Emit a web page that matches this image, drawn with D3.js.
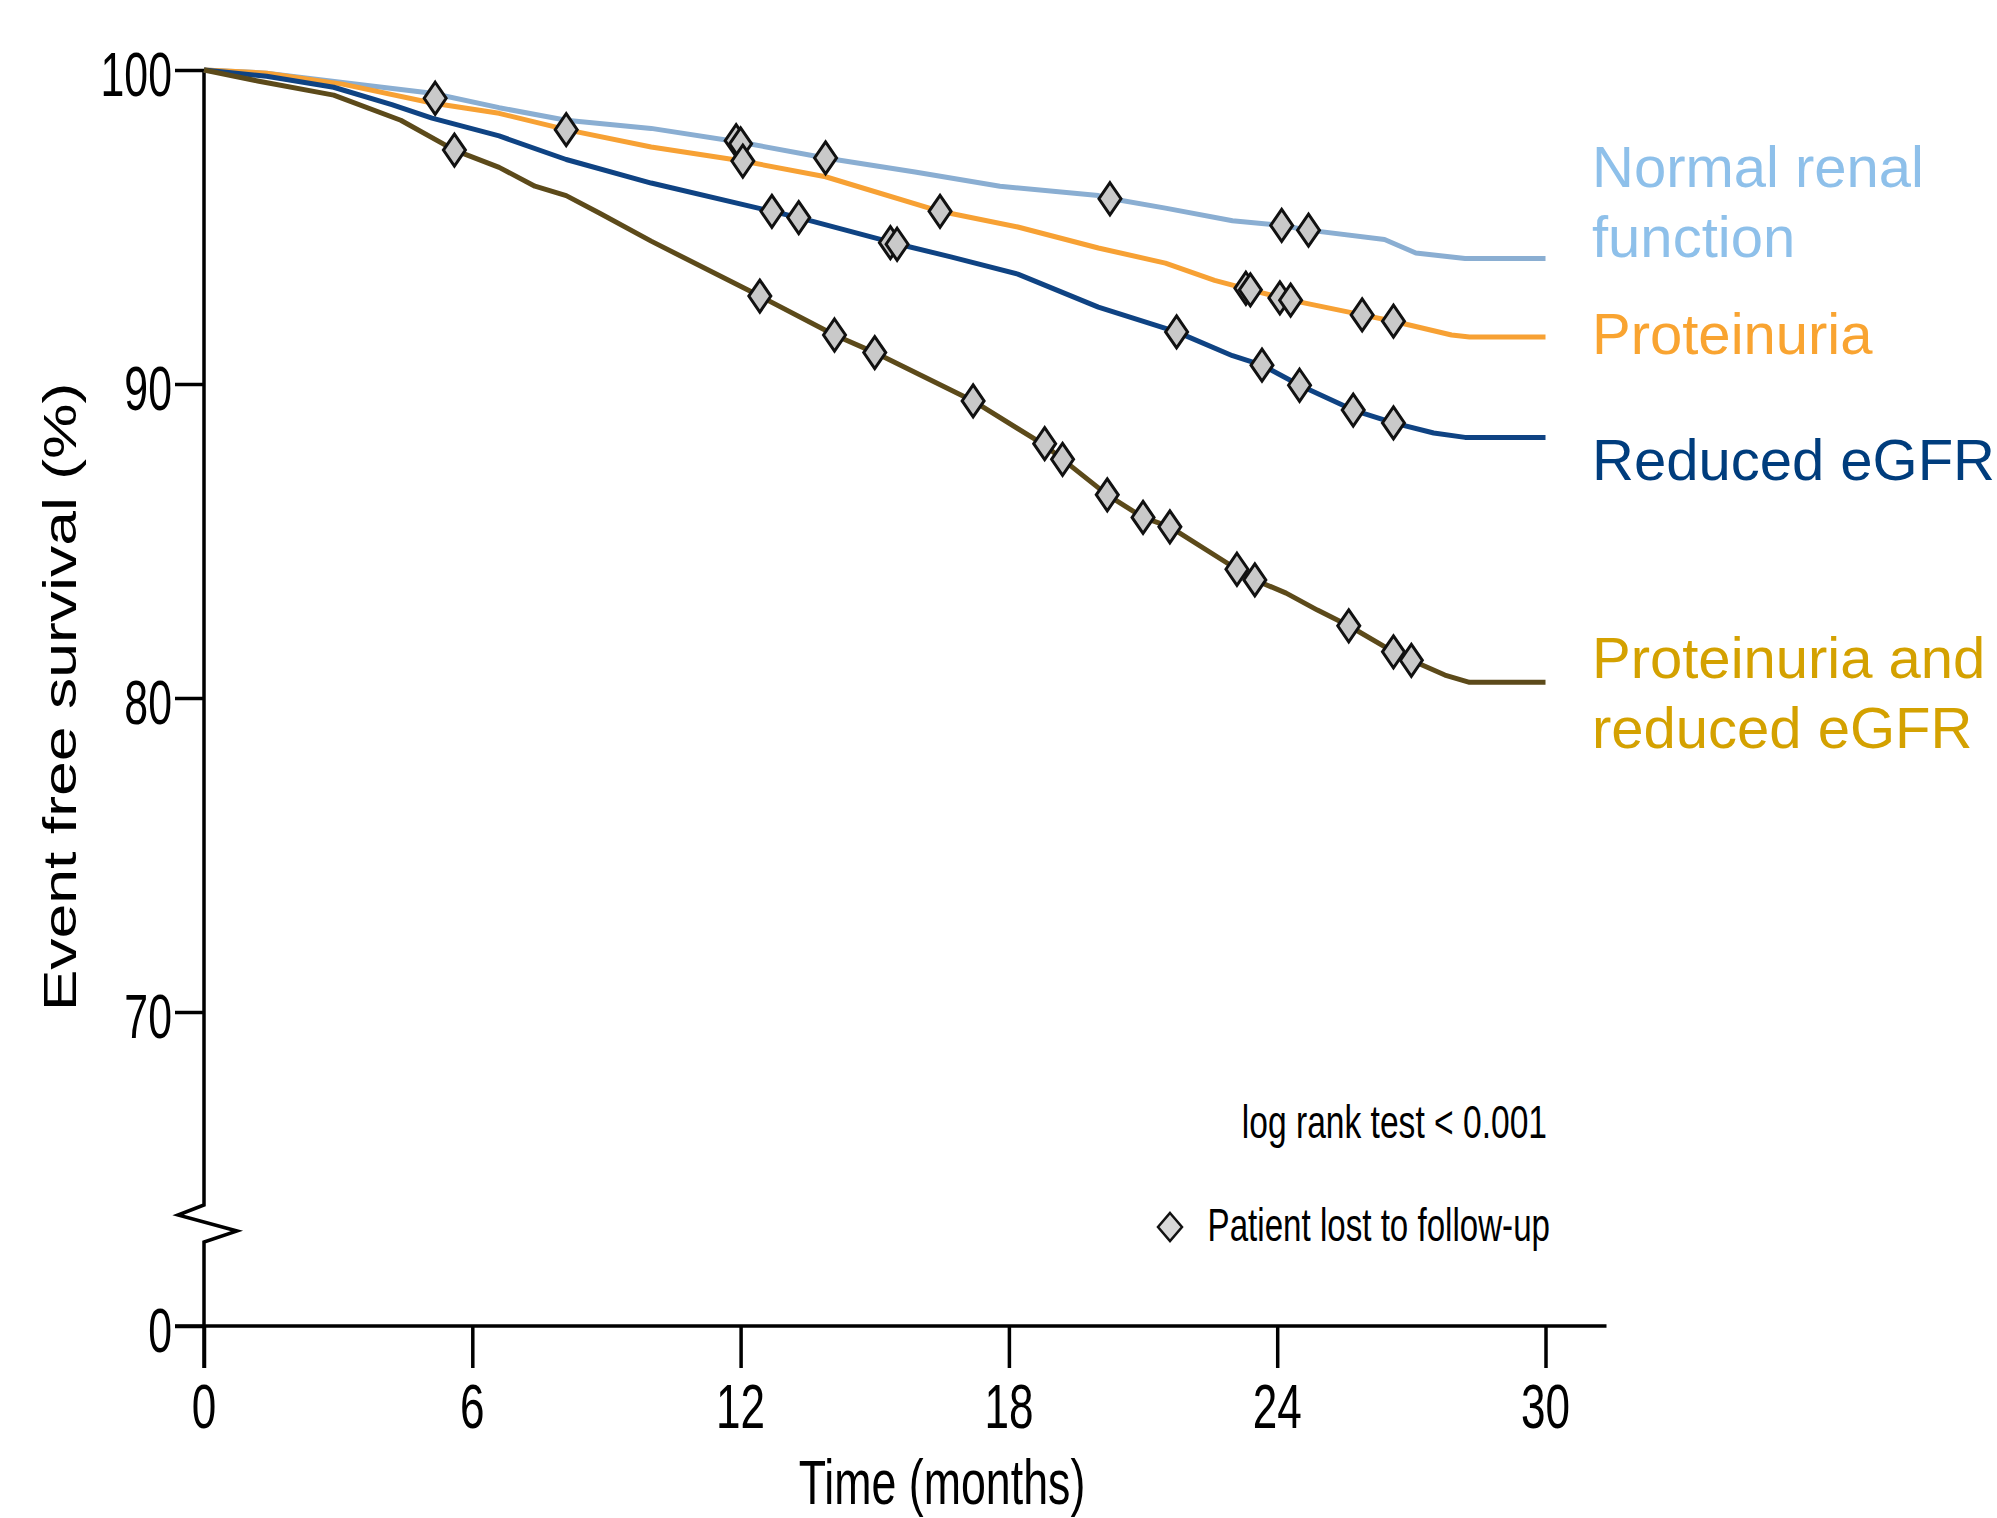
<!DOCTYPE html>
<html>
<head>
<meta charset="utf-8">
<script src="https://cdn.jsdelivr.net/npm/d3@7"></script>
<style>
  body { margin: 0; background: #fff; }
  svg { display: block; }
</style>
</head>
<body>
<div id="chart"></div>
<script>
/* global d3 */

var w = 1997,
    h = 1518;

// ---------- data ----------
var xTicks = [0, 6, 12, 18, 24, 30];
var yTicks = [60, 70, 80, 90, 100];   // 60 sits on the broken axis and reads "0"

var seriesNames = ["Normal renal function", "Proteinuria", "Reduced eGFR", "Proteinuria and reduced eGFR"];

// [months, event free survival %]
var normalRenal = [[0, 100], [1.4, 99.9], [3.1, 99.6], [5.1, 99.26], [6.6, 98.8], [8.1, 98.4], [10, 98.14],
    [12, 97.7], [13.9, 97.2], [15.9, 96.75], [17.8, 96.3], [20, 96.0], [20.3, 95.9], [21.5, 95.6],
    [23, 95.2], [24.1, 95.05], [24.7, 94.9], [26.4, 94.6], [27.1, 94.17], [28.2, 94.0], [30, 94.0]];
var proteinuria = [[0, 100], [1.4, 99.9], [3.1, 99.55], [5.1, 98.95], [6.6, 98.62], [8.1, 98.1], [10, 97.55],
    [12.05, 97.1], [13.9, 96.6], [16.46, 95.5], [18.2, 95.0], [20, 94.33], [21.5, 93.85], [22.6, 93.3],
    [23.4, 93.0], [24.3, 92.67], [25.9, 92.2], [26.6, 92.0], [27.9, 91.56], [28.3, 91.5], [30, 91.5]];
var reducedEgfr = [[0, 100], [1.4, 99.8], [2.9, 99.45], [4.2, 98.9], [5.1, 98.47], [6.6, 97.9], [8.1, 97.15],
    [10, 96.4], [12.7, 95.5], [13.3, 95.3], [15.4, 94.5], [16.7, 94.05], [18.2, 93.5], [20, 92.45],
    [21.75, 91.66], [23, 90.9], [23.66, 90.6], [24.5, 89.96], [25.7, 89.17], [26.6, 88.76], [27.5, 88.44],
    [28.2, 88.3], [30, 88.3]];
var protReduced = [[0, 100], [1.2, 99.65], [2.9, 99.2], [4.4, 98.4], [5.6, 97.45], [6.6, 96.9], [7.4, 96.3],
    [8.1, 96.0], [8.85, 95.44], [10, 94.55], [12.43, 92.8], [14.1, 91.56], [15, 91.0], [17.2, 89.46],
    [18.8, 88.05], [19.2, 87.6], [20.2, 86.47], [21, 85.75], [21.6, 85.45], [23.1, 84.1], [23.5, 83.76],
    [24.2, 83.34], [24.9, 82.8], [25.6, 82.3], [26.6, 81.47], [27, 81.2], [27.75, 80.73], [28.3, 80.5], [30, 80.5]];

// patients lost to follow-up (censor marks)
var normalCens = [[5.17, 99.1], [11.9, 97.75], [12.0, 97.65], [13.9, 97.2], [20.26, 95.9], [24.1, 95.05], [24.7, 94.9]];
var protCens = [[8.1, 98.1], [12.05, 97.1], [16.46, 95.5], [23.3, 93.05], [23.4, 93.0], [24.06, 92.74],
    [24.3, 92.67], [25.9, 92.2], [26.6, 92.0]];
var reducedCens = [[12.7, 95.5], [13.3, 95.3], [15.35, 94.5], [15.5, 94.45], [21.75, 91.66], [23.66, 90.6],
    [24.5, 89.96], [25.7, 89.17], [26.6, 88.76]];
var bothCens = [[5.6, 97.45], [12.43, 92.8], [14.1, 91.56], [15.0, 91.0], [17.2, 89.46], [18.8, 88.1],
    [19.2, 87.6], [20.2, 86.47], [21.0, 85.75], [21.6, 85.45], [23.1, 84.1], [23.5, 83.76], [25.6, 82.3],
    [26.6, 81.47], [27.0, 81.2]];

// ---------- styles ----------
var lineColor = ["#8aaed2", "#f7a134", "#0f4383", "#5c4a1a"];
var labelColor = ["#8ec0ea", "#f9a431", "#003d7d", "#d4a100"];
var labelLines = [["Normal renal", "function"], ["Proteinuria"], ["Reduced eGFR"], ["Proteinuria and", "reduced eGFR"]];
var labelBase = [187, 354, 480, 678];

var font = "'Liberation Sans', Arial, Helvetica, sans-serif";

var x = d3.scaleLinear().domain([0, 30]).range([204, 1545.5]);
var y = d3.scaleLinear().domain([60, 100]).range([1326, 70]);

var svg = d3.select("#chart").append("svg")
    .attr("width", w)
    .attr("height", h)
    .style("background", "#fff");

// text squeezed / stretched horizontally
function addText(g, px, py, txt, size, sx, anchor, color) {
    return g.append("text")
        .attr("transform", "translate(" + px + "," + py + ") scale(" + sx + ",1)")
        .attr("text-anchor", anchor)
        .style("font-family", font)
        .style("font-size", size + "px")
        .style("fill", color || "#000")
        .text(txt);
}

///////////////// axes ////////////////
var xAxis = svg.append("g")
    .attr("transform", "translate(0," + y(60) + ")")
    .call(d3.axisBottom(x).tickValues(xTicks).tickSize(42).tickFormat(""));
xAxis.select(".domain").remove();
xAxis.selectAll("line").attr("stroke", "#000").attr("stroke-width", 3.5);

var yAxis = svg.append("g")
    .attr("transform", "translate(" + x(0) + ",0)")
    .call(d3.axisLeft(y).tickValues(yTicks).tickSize(29).tickFormat(""));
yAxis.select(".domain").remove();
yAxis.selectAll("line").attr("stroke", "#000").attr("stroke-width", 3.5);

// x axis line, running a bit past both ends
svg.append("line")
    .attr("x1", x(0) - 29).attr("x2", x(30) + 61)
    .attr("y1", y(60)).attr("y2", y(60))
    .attr("stroke", "#000").attr("stroke-width", 3.5);

// y axis line with the zigzag break
var x0 = x(0);
svg.append("path")
    .attr("d", d3.line()([[x0, y(100)], [x0, 1205], [x0 - 26, 1215], [x0 + 33, 1231], [x0, 1242], [x0, y(60) + 42]]))
    .attr("fill", "none")
    .attr("stroke", "#000")
    .attr("stroke-width", 3.5)
    .attr("stroke-linejoin", "miter");

// tick labels
xTicks.forEach(function(t) {
    addText(svg, x(t), 1428, t, 63, 0.7, "middle");
});
yTicks.forEach(function(v) {
    addText(svg, x(0) - 32, y(v) + 26, v === 60 ? "0" : v, 63, 0.68, "end");
});

// axis titles
addText(svg, 942, 1504, "Time (months)", 63, 0.71, "middle");
svg.append("text")
    .attr("transform", "translate(76,697) rotate(-90) scale(1.33,1)")
    .attr("text-anchor", "middle")
    .style("font-family", font)
    .style("font-size", "47px")
    .text("Event free survival (%)");

///////////////// curves ////////////////
var curves = [normalRenal, proteinuria, reducedEgfr, protReduced];
var censors = [normalCens, protCens, reducedCens, bothCens];

var line = d3.line()
    .x(function(d) { return x(d[0]); })
    .y(function(d) { return y(d[1]); });

svg.selectAll(".km")
    .data(curves)
    .enter().append("path")
    .attr("class", "km")
    .attr("d", line)
    .attr("fill", "none")
    .attr("stroke", function(d, i) { return lineColor[i]; })
    .attr("stroke-width", 5)
    .attr("stroke-linejoin", "round");

var diamond = "M0,-16 L11,0 L0,16 L-11,0 Z";

svg.selectAll(".cens")
    .data(d3.merge(censors))
    .enter().append("path")
    .attr("class", "cens")
    .attr("d", diamond)
    .attr("transform", function(d) { return "translate(" + x(d[0]) + "," + y(d[1]) + ")"; })
    .attr("fill", "#c9c9c9")
    .attr("stroke", "#111")
    .attr("stroke-width", 3)
    .attr("stroke-linejoin", "miter");

///////////////// labels ////////////////
seriesNames.forEach(function(name, i) {
    labelLines[i].forEach(function(l, j) {
        svg.append("text")
            .attr("x", 1592)
            .attr("y", labelBase[i] + j * 70)
            .style("font-family", font)
            .style("font-size", "58px")
            .style("fill", labelColor[i])
            .text(l);
    });
});

// notes
addText(svg, 1547, 1138, "log rank test < 0.001", 46, 0.73, "end");
addText(svg, 1550, 1241, "Patient lost to follow-up", 46, 0.72, "end");
svg.append("path")
    .attr("d", "M0,-14 L12,0 L0,14 L-12,0 Z")
    .attr("transform", "translate(1170,1227)")
    .attr("fill", "#d8d8d8")
    .attr("stroke", "#111")
    .attr("stroke-width", 2.5);
</script>
</body>
</html>
